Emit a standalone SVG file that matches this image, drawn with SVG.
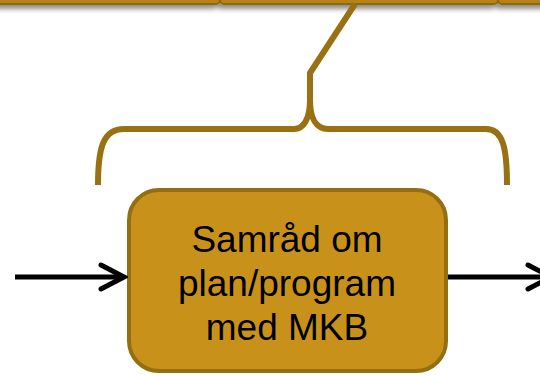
<svg xmlns="http://www.w3.org/2000/svg" width="540" height="376" viewBox="0 0 540 376">
<defs>
<filter id="sh" x="-10%" y="-50%" width="120%" height="300%">
<feGaussianBlur in="SourceAlpha" stdDeviation="2.5"/>
<feOffset dx="-3" dy="4" result="b"/>
<feComponentTransfer><feFuncA type="linear" slope="0.45"/></feComponentTransfer>
<feMerge><feMergeNode/><feMergeNode in="SourceGraphic"/></feMerge>
</filter>
<marker id="ah" viewBox="0 0 30 30" refX="26" refY="15" markerWidth="30" markerHeight="30" markerUnits="userSpaceOnUse" orient="auto">
<path d="M3,3 L26,15 L3,27" fill="none" stroke="#000" stroke-width="5" stroke-linecap="round" stroke-linejoin="miter"/>
</marker>
<style>
.top{fill:#B58412;stroke:#8E6A10;stroke-width:2}
.gold{stroke:#9A7112;stroke-width:6;fill:none;stroke-linejoin:round}
.arr{stroke:#000;stroke-width:5;fill:none}
.lbl{font-family:"Liberation Sans",Arial,sans-serif;font-size:37px;fill:#000;text-anchor:middle}
</style>
</defs>
<g id="top-boxes" filter="url(#sh)">
<rect class="top" x="-20" y="-20" width="240" height="24" rx="4"/>
<rect class="top" x="220" y="-20" width="278" height="24" rx="4"/>
<rect class="top" x="498" y="-20" width="70" height="24" rx="4"/>
</g>
<g id="brace">
<path class="gold" d="M98,185 C98,148 103,129 124,129 L294,129 C304,129 310,118 310,100 L310,73 L355,4"/>
<path class="gold" d="M310,100 C310,118 316,129 328,129 L486,129 C503,129 507,148 507,185"/>
</g>
<g id="node-samrad">
<rect x="129" y="190" width="317" height="181" rx="30" fill="#C8921A" stroke="#956E12" stroke-width="4"/>
<text class="lbl" x="287" y="252">Samråd om</text>
<text class="lbl" x="287" y="296">plan/program</text>
<text class="lbl" x="287" y="340">med MKB</text>
</g>
<g id="connectors">
<line class="arr" x1="15" y1="277" x2="124" y2="277" marker-end="url(#ah)"/>
<line class="arr" x1="448" y1="277" x2="551" y2="277" marker-end="url(#ah)"/>
</g>
</svg>
